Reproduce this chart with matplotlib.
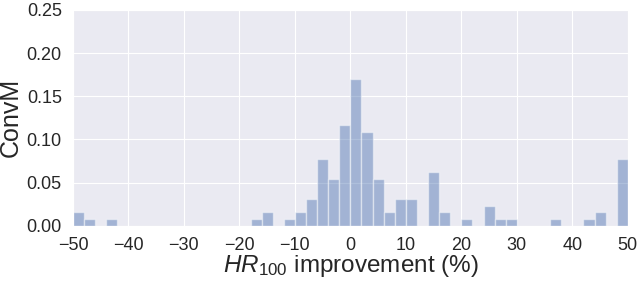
#!/usr/bin/env python3
"""Histogram of HR@100 improvement (%) for ConvM."""

import matplotlib
matplotlib.use("Agg")
import matplotlib.pyplot as plt
import seaborn as sns

# bin centres (bins of width 2 between -50 and 50) and their normalised heights
bin_centres = [-49, -47, -43,
               -17, -15, -11, -9, -7, -5, -3, -1, 1, 3, 5, 7, 9, 11,
               15, 17, 21, 25, 27, 29, 37, 43, 45, 49]
heights = [0.0155, 0.0078, 0.0078,
           0.0078, 0.0155, 0.0078, 0.0155, 0.0310, 0.0775, 0.0543, 0.1163,
           0.1705, 0.1085, 0.0543, 0.0155, 0.0310, 0.0310,
           0.0620, 0.0155, 0.0078, 0.0233, 0.0078, 0.0078, 0.0078, 0.0078,
           0.0155, 0.0775]
bin_width = 2
x_ticks = [-50, -40, -30, -20, -10, 0, 10, 20, 30, 40, 50]
y_ticks = [0.00, 0.05, 0.10, 0.15, 0.20, 0.25]


def main():
    sns.set_style("darkgrid")
    plt.rcParams["font.family"] = ["Liberation Sans", "DejaVu Sans"]
    plt.rcParams["mathtext.fontset"] = "custom"
    plt.rcParams["mathtext.rm"] = "Liberation Sans"
    plt.rcParams["mathtext.it"] = "Liberation Sans:italic"

    fig = plt.figure(figsize=(6.4, 2.82), dpi=100)
    ax = fig.add_axes([0.114, 0.199, 0.867, 0.766])

    ax.bar(bin_centres, heights, width=bin_width, color="#4c72b0", alpha=0.45,
           edgecolor="white", linewidth=1.0, zorder=2)

    ax.set_xlim(-50, 50)
    ax.set_ylim(0, 0.25)
    ax.set_xticks(x_ticks)
    ax.set_yticks(y_ticks)
    ax.set_yticklabels([f"{v:.2f}" for v in y_ticks])
    ax.tick_params(axis="both", labelsize=13, length=0)
    ax.tick_params(axis="x", pad=8)
    ax.tick_params(axis="y", pad=8)

    ax.set_xlabel(r"$HR_{100}$ improvement (%)", fontsize=17.5, labelpad=-0.5)
    ax.set_ylabel("ConvM", fontsize=18, va="center")
    ax.yaxis.set_label_coords(-0.112, 0.5)

    fig.savefig("out.png", dpi=100)


if __name__ == "__main__":
    main()
